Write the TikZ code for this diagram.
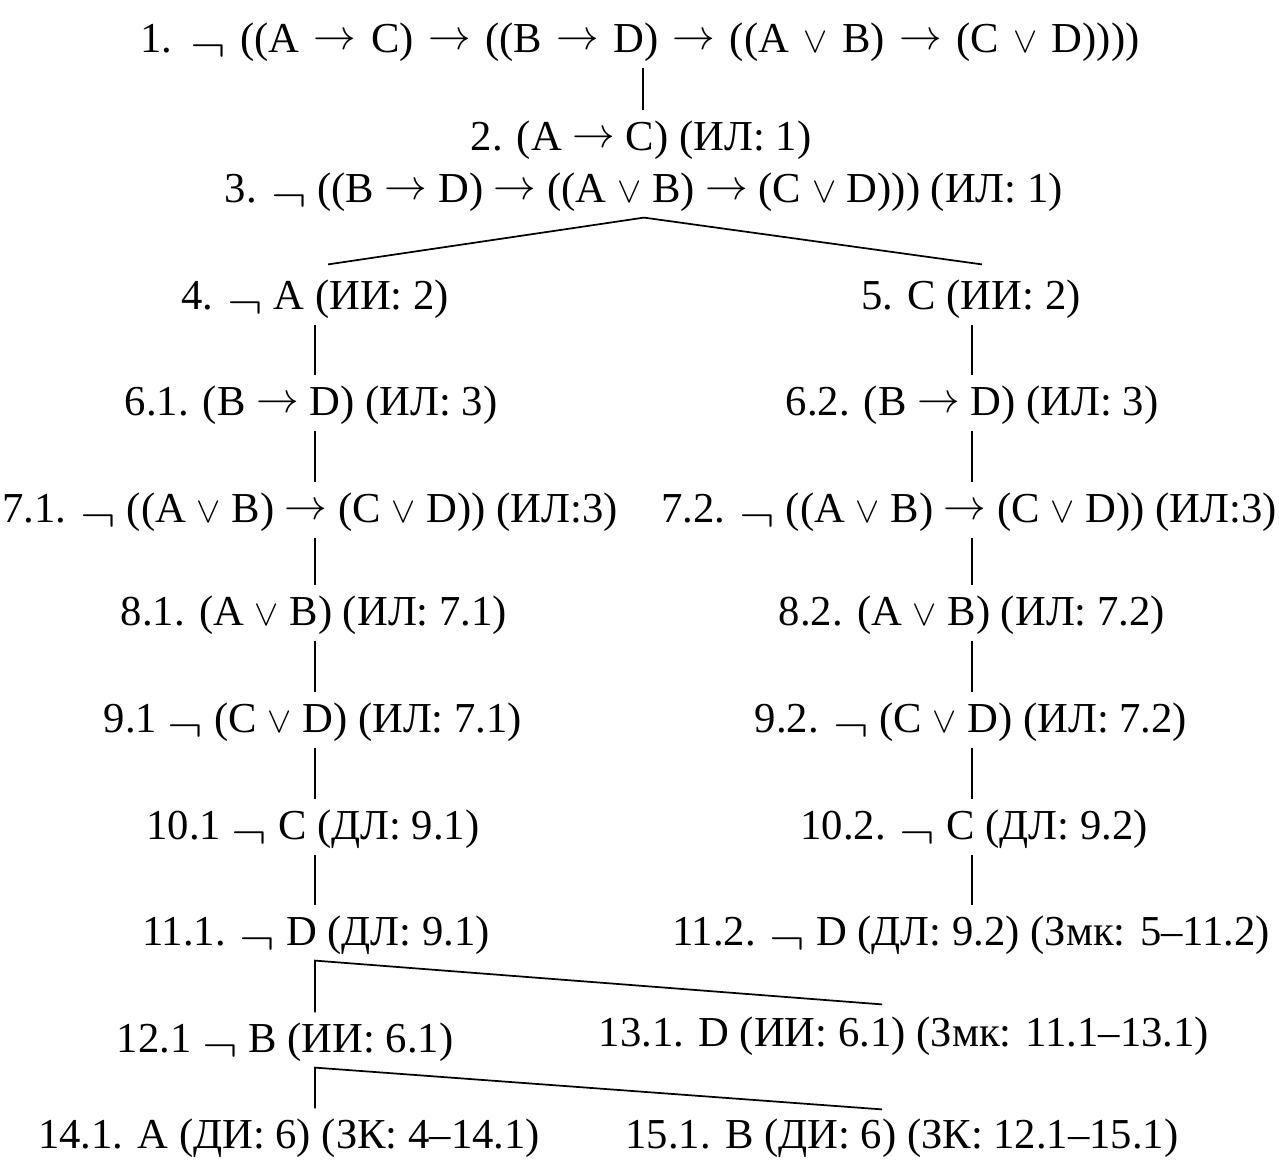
\RequirePackage{fix-cm}
\documentclass[tikz,border=0pt]{standalone}
\usepackage{fontspec}
\setmainfont{Liberation Serif}
\newcommand\Imp{\raisebox{0.08em}{$\rightarrow$}}
\newcommand\Or{\scalebox{0.85}{$\vee$}}
\newcommand\Ng{\raisebox{-0.2em}{\scalebox{1.25}[1.1]{$\neg$}}}
\usetikzlibrary{calc}
\tikzset{
  % one line of the proof
  PL/.style={inner xsep=0pt,inner ysep=0pt,text height=30pt,text depth=11pt,
             font=\fontsize{32}{38}\selectfont},
  % tree edges
  Ln/.style={line width=1.3pt,color=black},
}
\begin{document}
\begin{tikzpicture}[x=0.75pt,y=0.75pt]
  \useasboundingbox (0,0) rectangle (1279,-1160);
  \coordinate (lcol) at (315,0);
  \coordinate (rcol) at (972,0);
  \node[PL] at (640,-40) (r1) {\spaceskip=10.8pt\relax 1. \Ng{} ((A \Imp{} C) \Imp{} ((B \Imp{} D) \Imp{} ((A \Or{} B) \Imp{} (C \Or{} D))))};
  \node[PL] at (641,-138) (r2) {2. (A \Imp{} C) (ИЛ: 1)};
  \node[PL] at (644,-190) (r3) {3. \Ng{} ((B \Imp{} D) \Imp{} ((A \Or{} B) \Imp{} (C \Or{} D))) (ИЛ: 1)};
  \draw[Ln] (r1.south -| 643,0) -- (r2.north -| 643,0);
  % branch after 3
  \node[PL] at (315,-297) (r4) {4. \Ng{} A (ИИ: 2)};
  \node[PL] at (971,-297) (r5) {5. C (ИИ: 2)};
  \draw[Ln] ($(r4.north)+(13,5)$) -- (r3.south) -- ($(r5.north)+(11,5)$);
  % left column
  \node[PL] at (311,-403) (r61) {6.1. (B \Imp{} D) (ИЛ: 3)};
  \node[PL] at (310,-510) (r71) {7.1. \Ng{} ((A \Or{} B) \Imp{} (C \Or{} D)) (ИЛ:3)};
  \node[PL] at (314,-613) (r81) {8.1. (A \Or{} B) (ИЛ: 7.1)};
  \node[PL] at (313,-720) (r91) {9.1 \Ng{} (C \Or{} D) (ИЛ: 7.1)};
  \node[PL] at (313,-827) (r101) {10.1 \Ng{} C (ДЛ: 9.1)};
  \node[PL] at (316,-933) (r111) {11.1. \Ng{} D (ДЛ: 9.1)};
  \draw[Ln] (r4.south -| lcol) -- (r61.north -| lcol);
  \draw[Ln] (r61.south -| lcol) -- (r71.north -| lcol);
  \draw[Ln] (r71.south -| lcol) -- (r81.north -| lcol);
  \draw[Ln] (r81.south -| lcol) -- (r91.north -| lcol);
  \draw[Ln] (r91.south -| lcol) -- (r101.north -| lcol);
  \draw[Ln] (r101.south -| lcol) -- (r111.north -| lcol);
  % right column
  \node[PL] at (972,-403) (r62) {6.2. (B \Imp{} D) (ИЛ: 3)};
  \node[PL] at (969,-510) (r72) {7.2. \Ng{} ((A \Or{} B) \Imp{} (C \Or{} D)) (ИЛ:3)};
  \node[PL] at (972,-613) (r82) {8.2. (A \Or{} B) (ИЛ: 7.2)};
  \node[PL] at (971,-720) (r92) {9.2. \Ng{} (C \Or{} D) (ИЛ: 7.2)};
  \node[PL] at (974,-827) (r102) {10.2. \Ng{} C (ДЛ: 9.2)};
  \node[PL] at (971,-933) (r112) {11.2. \Ng{} D (ДЛ: 9.2) (Змк: 5–11.2)};
  \draw[Ln] (r5.south -| rcol) -- (r62.north -| rcol);
  \draw[Ln] (r62.south -| rcol) -- (r72.north -| rcol);
  \draw[Ln] (r72.south -| rcol) -- (r82.north -| rcol);
  \draw[Ln] (r82.south -| rcol) -- (r92.north -| rcol);
  \draw[Ln] (r92.south -| rcol) -- (r102.north -| rcol);
  \draw[Ln] (r102.south -| rcol) -- (r112.north -| rcol);
  % branches after 11.1 and 12.1
  \node[PL] at (285,-1040) (r121) {12.1 \Ng{} B (ИИ: 6.1)};
  \node[PL] at (904,-1034) (r131) {13.1. D (ИИ: 6.1) (Змк: 11.1–13.1)};
  \node[PL] at (289,-1136) (r141) {14.1. A (ДИ: 6) (ЗК: 4–14.1)};
  \node[PL] at (902,-1136) (r151) {15.1. B (ДИ: 6) (ЗК: 12.1–15.1)};
  \draw[Ln] (r121.north -| lcol) -- (r111.south -| lcol) -- ($(r131.north)+(-22,2)$);
  \draw[Ln] (r141.north -| lcol) -- (r121.south -| lcol) -- ($(r151.north)+(-20,-1)$);
\end{tikzpicture}
\end{document}
